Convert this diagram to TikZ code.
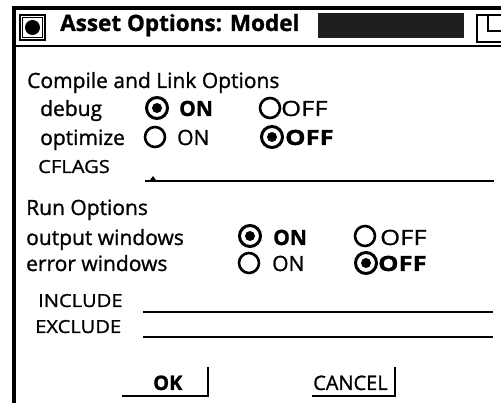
\documentclass[tikz,border=0pt]{standalone}
\usepackage{fontspec}
\setmainfont{Open Sans}[FakeBold=1.1]
\newfontfamily\fieldfont{Open Sans}[FakeStretch=1.12,FakeBold=1.1]
\newfontfamily\widefont{Open Sans}[FakeStretch=1.22,FakeBold=1.1]
\begin{document}
\begin{tikzpicture}[x=1pt,y=-1pt,
  txt/.style={anchor=base west,inner sep=0pt,font=\fontsize{21}{24}\selectfont},
  titletxt/.style={anchor=base west,inner sep=0pt,font=\fontsize{22.5}{27}\selectfont\bfseries},
  onbold/.style={txt,font=\fontsize{21}{24}\selectfont\bfseries},
  offtxt/.style={txt,font=\fontsize{21}{24}\widefont},
  offbold/.style={txt,font=\fontsize{21}{24}\widefont\bfseries},
  fieldtxt/.style={txt,font=\fontsize{18}{21}\fieldfont},
  btntxt/.style={txt,font=\fontsize{20}{23}\selectfont},
  radioon/.style={circle,draw,line width=3pt,minimum size=21pt,inner sep=0pt,
    path picture={\fill (path picture bounding box.center) circle (5pt);}},
  radiooff/.style={circle,draw,line width=2.6pt,minimum size=20pt,inner sep=0pt},
  frame/.style={line width=3.2pt},
  field/.style={line width=1.6pt},
  btnedge/.style={line width=1.5pt}]

\useasboundingbox (0,0) rectangle (501,403);
\fill[white] (0,0) rectangle (501,403);

% window frame and title bar
\draw[frame] (14,403) -- (14,8) -- (501,8);
\draw[line width=2.5pt] (12,46) -- (501,46);

% close box at the left of the title bar
\draw[line width=1.6pt] (20,15) rectangle (45,40);
\draw[line width=1pt] (22.5,17.5) rectangle (42.5,37.5);
\fill (32.5,27.5) circle (7.5);

\node[titletxt] (title) at (60,31) {Asset Options: Model};

% dark stippled block and resize box
\fill[black!88] (318,13) rectangle (464,38);
\begin{scope}
  \clip (0,0) rectangle (501,403);
  \draw[line width=1.6pt] (477,15) rectangle (506,42);
  \draw[line width=1.4pt] (488,15) -- (488,31) -- (506,31);
\end{scope}

% compile and link options
\node[txt] (compileHead) at (27,88) {Compile and Link Options};
\node[txt] (debugLbl) at (40,116) {debug};
\node[radioon] (dbgOnDot) at (157,108) {};
\node[onbold] (dbgOnTxt) at (179,116) {ON};
\node[radiooff] (dbgOffDot) at (270,108) {};
\node[offtxt] (dbgOffTxt) at (281,116) {OFF};

\node[txt] (optLbl) at (40,145) {optimize};
\node[radiooff] (optOnDot) at (155,137) {};
\node[txt] (optOnTxt) at (177,145) {ON};
\node[radioon] (optOffDot) at (272,137) {};
\node[offbold] (optOffTxt) at (285,145) {OFF};

\node[fieldtxt] (cflags) at (38,173) {CFLAGS};
\coordinate (cfA) at (145,181);
\coordinate (cfB) at (494,181);
\draw[field] (cfA) -- (cfB);
\fill (149,181.5) -- (153,176) -- (157,181.5) -- cycle;

% run options
\node[txt] (runHead) at (26,215) {Run Options};
\node[txt] (outLbl) at (26,245) {output windows};
\node[radioon] (outOnDot) at (250,236) {};
\node[onbold] (outOnTxt) at (273,245) {ON};
\node[radiooff] (outOffDot) at (365,236) {};
\node[offtxt] (outOffTxt) at (380,245) {OFF};

\node[txt] (errLbl) at (26,271) {error windows};
\node[radiooff] (errOnDot) at (249,263) {};
\node[txt] (errOnTxt) at (272,271) {ON};
\node[radioon] (errOffDot) at (366,263) {};
\node[offbold] (errOffTxt) at (378,271) {OFF};

\node[fieldtxt] (incLbl) at (38,307) {INCLUDE};
\coordinate (incA) at (143,312);
\coordinate (incB) at (493,312);
\draw[field] (incA) -- (incB);

\node[fieldtxt] (excLbl) at (35,333) {EXCLUDE};
\coordinate (excA) at (143,337);
\coordinate (excB) at (493,337);
\draw[field] (excA) -- (excB);

% buttons
\node[btntxt,font=\fontsize{20}{23}\selectfont\bfseries] (okTxt) at (153,390) {OK};
\coordinate (okL) at (122,396);
\coordinate (okC) at (208,396);
\coordinate (okT) at (208,367);
\draw[btnedge] (okL) -- (okC) -- (okT);

\node[btntxt] (cancelTxt) at (313,390) {CANCEL};
\coordinate (cnL) at (312,396);
\coordinate (cnC) at (395,396);
\coordinate (cnT) at (395,367);
\draw[btnedge] (cnL) -- (cnC) -- (cnT);
\end{tikzpicture}
\end{document}
